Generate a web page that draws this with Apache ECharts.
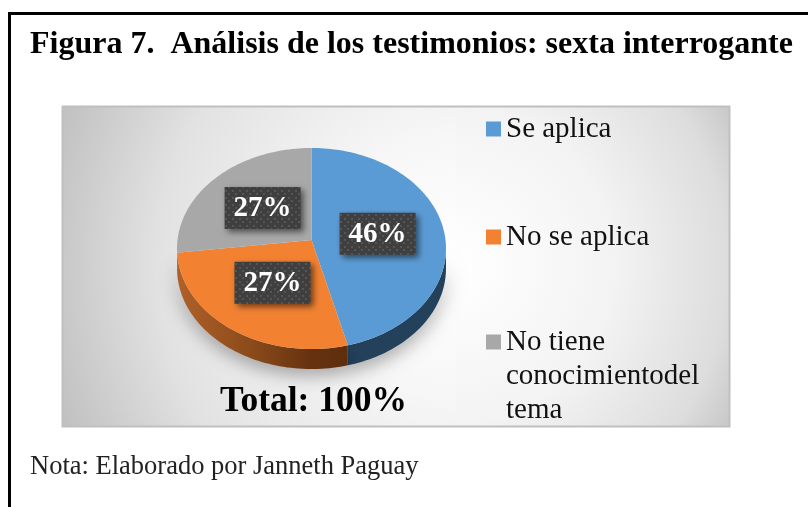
<!DOCTYPE html>
<html><head><meta charset="utf-8">
<style>html,body{margin:0;padding:0;background:#fff}#c{width:808px;height:507px}</style>
<script src="https://cdn.jsdelivr.net/npm/echarts@6/dist/echarts.min.js"></script>
</head><body><div id="c"></div>
<script>
const categories = ['Se aplica', 'No se aplica', 'No tiene conocimientodel tema'];
const percentages = [46, 27, 27];
const titleText = 'Figura 7.  Análisis de los testimonios: sexta interrogante';
const totalText = 'Total: 100%';
const noteText = 'Nota: Elaborado por Janneth Paguay';

const SERIF = '"Liberation Serif","Times New Roman",serif';
const topColors = ['#5b9bd5', '#f28232', '#a8a8a8'];
const geo = {cx: 311.5, cy: 240, rx: 134, up: 99.8, k: 0.0846, depth: 20, labelR: 0.5};
const sum = percentages.reduce((a, b) => a + b, 0);
const starts = percentages.map((_, i) => percentages.slice(0, i).reduce((a, b) => a + b, 0) / sum);

function proj(f, r) {
  const th = f * 2 * Math.PI, u = r * Math.sin(th), v = r * Math.cos(th), w = 1 + geo.k * v;
  return [geo.cx + geo.rx * u / w, geo.cy - geo.up * v / w];
}
function arc(a, b, r) {
  const n = Math.max(2, Math.ceil((b - a) * 240)), out = [];
  for (let i = 0; i <= n; i++) out.push(proj(a + (b - a) * i / n, r));
  return out;
}
const chart = echarts.init(document.getElementById('c'), null, {renderer: 'canvas'});

const dots = document.createElement('canvas');
dots.width = 7; dots.height = 7;
(function () {
  const g = dots.getContext('2d');
  g.fillStyle = '#3f3f3f'; g.fillRect(0, 0, 7, 7);
  g.fillStyle = '#555555'; g.fillRect(1, 1, 2, 2);
  g.fillRect(4, 4, 2, 2);
})();

function wallFill(i) {
  if (i === 0) return '#24415c';
  if (i === 1) return new echarts.graphic.LinearGradient(178, 0, 345, 0, [
    {offset: 0, color: '#b0602a'}, {offset: 0.45, color: '#8a4a1a'}, {offset: 0.8, color: '#65320f'}, {offset: 1, color: '#5e2e0d'}
  ], true);
  return '#7a7a7a';
}
function renderSlice(i) {
  return function (params, api) {
    const value = api.value(0);
    const a = starts[i], b = a + value / sum;
    const top = [[geo.cx, geo.cy]].concat(arc(a, b, 1));
    const children = [];
    const fa = Math.max(a, 0.2635), fb = Math.min(b, 0.7365);
    if (fb > fa) {
      const edge = arc(fa, fb, 1);
      const wall = edge.concat(edge.map(p => [p[0], p[1] + geo.depth]).reverse());
      children.push({type: 'polygon', z2: 1, shape: {points: wall},
        style: {fill: wallFill(i), shadowBlur: 18, shadowColor: 'rgba(0,0,0,0.35)', shadowOffsetY: 6}});
    }
    children.push({type: 'polygon', z2: 2, shape: {points: top}, style: {fill: topColors[i]}});
    const c = proj(a + (b - a) / 2, geo.labelR);
    children.push({type: 'rect', z2: 3, shape: {x: c[0] - 38, y: c[1] - 21, width: 76, height: 42},
      style: {fill: {image: dots, repeat: 'repeat'}, shadowBlur: 6, shadowColor: 'rgba(0,0,0,0.55)', shadowOffsetX: 3, shadowOffsetY: 3}});
    children.push({type: 'text', z2: 4, style: {text: value + '%', x: c[0], y: c[1] + 1, fill: '#fff',
      font: 'bold 29px ' + SERIF, align: 'center', verticalAlign: 'middle'}});
    return {type: 'group', children};
  };
}
const legendBase = {orient: 'horizontal', selectedMode: false, padding: 0, itemWidth: 15, itemHeight: 15, icon: 'rect',
  textStyle: {fontFamily: SERIF, fontSize: 29, lineHeight: 34, color: '#111'}};
const tallIcon = 'path://M0 0L0 0M0 9.5L15 9.5L15 24.5L0 24.5ZM0 102L0 102';

function panelFill(r, stops) {
  return new echarts.graphic.RadialGradient(456, 265, r, stops, true);
}

chart.setOption({
  animation: false,
  title: [
    {text: titleText, left: 30, top: 29, padding: 0, textStyle: {fontFamily: SERIF, fontWeight: 'bold', fontSize: 32, color: '#000'}},
    {text: totalText, left: 220, top: 384, padding: 0, z: 5, textStyle: {fontFamily: SERIF, fontWeight: 'bold', fontSize: 35.5, color: '#000'}},
    {text: noteText, left: 30, top: 454, padding: 0, textStyle: {fontFamily: SERIF, fontWeight: 'normal', fontSize: 26.5, color: '#222'}}
  ],
  legend: [
    Object.assign({}, legendBase, {left: 486, top: 112, data: [categories[0]]}),
    Object.assign({}, legendBase, {left: 486, top: 220, data: [categories[1]]}),
    Object.assign({}, legendBase, {left: 486, top: 325, itemHeight: 102,
      data: [{name: categories[2], icon: tallIcon}],
      formatter: () => 'No tiene\nconocimientodel\ntema'})
  ],
  graphic: [
    {type: 'polyline', z: -1, shape: {points: [[9.5, 507], [9.5, 13.5], [808, 13.5]]}, style: {stroke: '#000', lineWidth: 3, fill: null}},
    {type: 'rect', z: -2, shape: {x: 62, y: 106, width: 394, height: 321},
      style: {fill: panelFill(425, [{offset: 0, color: '#ffffff'}, {offset: 0.3, color: '#f7f7f7'}, {offset: 0.7, color: '#e2e2e2'}, {offset: 1, color: '#c0c0c0'}])}},
    {type: 'rect', z: -2, shape: {x: 456, y: 106, width: 274, height: 321},
      style: {fill: panelFill(316, [{offset: 0, color: '#ffffff'}, {offset: 0.5, color: '#f3f3f3'}, {offset: 0.86, color: '#dddddd'}, {offset: 1, color: '#c8c8c8'}])}},
    {type: 'rect', z: -1, shape: {x: 62.5, y: 106.5, width: 667, height: 320}, style: {stroke: '#bfbfbf', lineWidth: 2, fill: null}}
  ],
  series: categories.map((name, i) => ({
    type: 'custom', name, coordinateSystem: 'none', silent: true,
    itemStyle: {color: topColors[i]},
    renderItem: renderSlice(i),
    data: [[percentages[i]]]
  }))
});
</script></body></html>
